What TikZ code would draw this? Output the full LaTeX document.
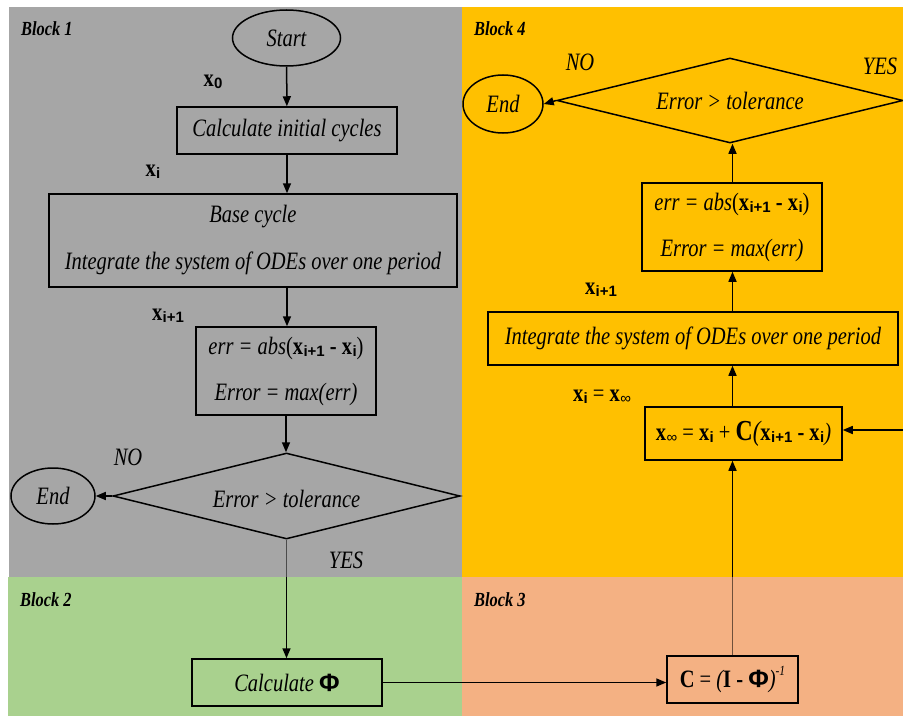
\documentclass[tikz,border=0pt]{standalone}
\usepackage{fontspec}
\setmainfont{Liberation Serif}
\newfontfamily\cond[FakeStretch=0.82]{Liberation Serif}
\newfontfamily\subf{Liberation Sans}
\usetikzlibrary{shapes.geometric,arrows.meta}

\definecolor{blockgray}{HTML}{A6A6A6}
\definecolor{blockgold}{HTML}{FFC000}
\definecolor{blockgreen}{HTML}{A9D18E}
\definecolor{blocksalmon}{HTML}{F4B183}

% bold state vector with a small upright sans subscript
\newcommand{\vx}[1]{{\upshape\bfseries x}\kern0.4pt\raisebox{-0.2ex}{\subf\upshape\bfseries\fontsize{15}{15}\selectfont #1}}
\newcommand{\bphi}{{\subf\bfseries\upshape Φ}}

\begin{document}
\begin{tikzpicture}[x=1pt,y=-1pt,
  every node/.style={font=\cond\itshape\fontsize{25}{30}\selectfont, inner sep=0pt},
  procbox/.style={draw, line width=1.5pt, align=center},
  term/.style={draw, ellipse, line width=1.5pt},
  decision/.style={draw, diamond, aspect=4, line width=1.5pt},
  flow/.style={line width=1.5pt, -{Triangle[length=10pt,width=8pt]}},
  faded/.style={line width=1.5pt, draw=#1},
  blocklabel/.style={font=\cond\bfseries\itshape\fontsize{20}{24}\selectfont, anchor=west},
  vlabel/.style={font=\cond\fontsize{25}{30}\selectfont}]

\useasboundingbox (0,0) rectangle (903,717);
\fill[white] (0,0) rectangle (903,717);

% coloured blocks
\fill[blockgray]   (9,7)     rectangle (462,577);
\fill[blockgold]   (462,7)   rectangle (903,577);
\fill[blockgreen]  (8,577)   rectangle (462,716);
\fill[blocksalmon] (462,577) rectangle (903,716);
\coordinate (seam) at (462,577);

\node[blocklabel] (b1) at (21,29)  {Block 1};
\node[blocklabel] (b4) at (474,29) {Block 4};
\node[blocklabel] (b2) at (20,600) {Block 2};
\node[blocklabel] (b3) at (474,600) {Block 3};

% block 1
\node[term, minimum width=108, minimum height=56] (start) at (286.5,38) {Start};
\node[procbox, minimum width=220, minimum height=47] (init) at (287,130.5) {Calculate initial cycles};
\node[procbox, minimum width=408, minimum height=93] (base) at (253,240.5)
  {Base cycle\\[17pt]Integrate the system of ODEs over one period};
\node[procbox, minimum width=180, minimum height=88] (err1) at (286,371)
  {err = abs{\upshape(}\vx{i+1} {\upshape\bfseries -} \vx{i}{\upshape)}\\[16pt]Error = max(err)};
\node[decision, minimum width=347, minimum height=86] (dia1) at (286.5,496) {};
\node (dia1text) at (286.5,499) {Error > tolerance};
\node[term, minimum width=84, minimum height=56] (end1) at (53,496) {End};

\node[vlabel] (lx0) at (213,82) {\vx{0}};
\node[vlabel] (lxi) at (153,172) {\vx{i}};
\node[vlabel] (lxi1) at (168,316) {\vx{i+1}};
\node (no1) at (128,457) {NO};
\node (yes1) at (346,560) {YES};

% block 2
\node[procbox, minimum width=190, minimum height=47] (calcphi) at (287,682.5) {Calculate \bphi};

% block 3
\node[procbox, minimum width=131, minimum height=47] (cbox) at (732.5,679.5)
  {\upshape{\bfseries C} = {\itshape(}{\bfseries I - }\bphi{\itshape)}\raisebox{1.1ex}{\fontsize{14}{14}\selectfont\itshape -1}};

% block 4
\node[procbox, minimum width=197, minimum height=53] (xinf) at (743.5,433.5)
  {\upshape\vx{\mdseries ∞} = \vx{i} + {\bfseries\fontsize{29}{30}\selectfont C}{\itshape\fontsize{28}{30}\selectfont(}\vx{i+1} {\bfseries -} \vx{i}{\itshape)}};
\node[procbox, minimum width=410, minimum height=53] (integ) at (693,338.5)
  {Integrate the system of ODEs over one period};
\node[procbox, minimum width=180, minimum height=88] (err2) at (732,227)
  {err = abs{\upshape(}\vx{i+1} {\upshape\bfseries -} \vx{i}{\upshape)}\\[16pt]Error = max(err)};
\node[decision, minimum width=346, minimum height=85] (dia2) at (730,100.5) {Error > tolerance};
\node[term, minimum width=80, minimum height=58] (end2) at (503,104) {End};

\node[vlabel] (lxi1b) at (601,290) {\vx{i+1}};
\node[vlabel] (lxinf) at (602,397) {\vx{i} = \vx{\mdseries ∞}};
\node (no2) at (580,62) {NO};
\node (yes2) at (880,66) {YES};

\coordinate (feed) at (903,430);

% connectors
\draw[flow] (start) -- (init);
\draw[flow] (init.south) -- (init.south |- base.north);
\draw[flow] (init.south |- base.south) -- (init.south |- err1.north);
\draw[flow] (err1.south) -- (err1.south |- dia1.north);
\draw[flow] (dia1.west) -- (end1.east);
\draw[flow] (dia1.south) -- (dia1.south |- calcphi.north);
\draw[flow] (calcphi.east) -- (calcphi.east -| cbox.west);
\draw[flow] (cbox.north) -- (cbox.north |- xinf.south);
\draw[flow] (cbox.north |- xinf.north) -- (cbox.north |- integ.south);
\draw[flow] (cbox.north |- integ.north) -- (cbox.north |- err2.south);
\draw[flow] (err2.north -| cbox.north) -- (dia2.south -| cbox.north);
\draw[flow] (dia2.west) -- (end2.east);
\draw[flow] (feed) -- (feed -| xinf.east);

% the stretches of the two long links that pass under a neighbouring block look lighter
\draw[faded=blockgray!45!black] (dia1.south) -- (dia1.south |- seam);
\draw[faded=blocksalmon!45!black] (cbox.north) -- (cbox.north |- seam);
\end{tikzpicture}
\end{document}
